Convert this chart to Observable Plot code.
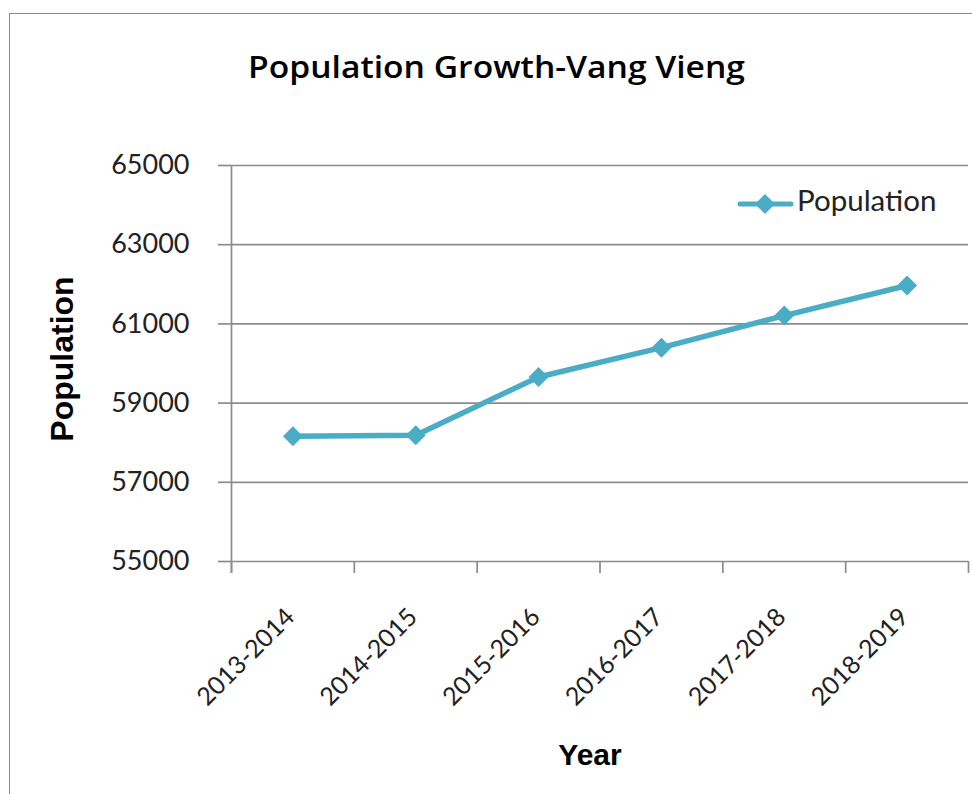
<!DOCTYPE html>
<html>
<head>
<meta charset="utf-8">
<script src="https://cdn.jsdelivr.net/npm/d3@7"></script>
<script src="https://cdn.jsdelivr.net/npm/@observablehq/plot@0.6"></script>
<style>
  html, body { margin: 0; padding: 0; background: #fff; overflow: hidden; }
  #frame { position: absolute; left: 9px; top: 13px; width: 1000px; height: 1000px; border: 1.5px solid #8a8a8a; box-sizing: border-box; }
  #chart { position: absolute; left: 0; top: 0; }
</style>
</head>
<body>
<div id="frame"></div>
<div id="chart"></div>
<script>
// ---- data ----
const years = ["2013-2014", "2014-2015", "2015-2016", "2016-2017", "2017-2018", "2018-2019"];
const population = [58160, 58190, 59660, 60400, 61210, 61970];
const yTicks = [55000, 57000, 59000, 61000, 63000, 65000];
const seriesName = "Population";
const chartTitle = "Population Growth-Vang Vieng";
const xTitle = "Year";
const yTitle = "Population";

const COLOR = "#4bacc6";
const GRAY = "#8c8c8c";

const data = years.map((year, i) => ({ year, pos: i + 0.5, population: population[i] }));
const boundaries = d3.range(years.length + 1);

const svgEl = Plot.plot({
  width: 972,
  height: 794,
  marginLeft: 231,
  marginRight: 4,
  marginTop: 165,
  marginBottom: 233,
  style: { fontFamily: "Lato, sans-serif", fontSize: "24px", background: "transparent", color: "#222" },
  x: { domain: [0, years.length] },
  y: { domain: [55000, 65000] },
  marks: [
    Plot.gridY(yTicks, { stroke: GRAY, strokeOpacity: 1, strokeWidth: 1.7 }),
    Plot.axisY(yTicks, {
      tickSize: 13, tickPadding: 29, stroke: GRAY, strokeWidth: 1.7,
      fill: "#222", fontSize: 27, tickFormat: d => String(d), label: null
    }),
    Plot.ruleX([0], { y1: 65000, y2: 55000, stroke: GRAY, strokeWidth: 1.7, insetBottom: -12 }),
    Plot.axisX(boundaries, { tickSize: 12, tickFormat: () => "", stroke: GRAY, strokeWidth: 1.7, label: null }),
    Plot.text(data, {
      x: "pos", frameAnchor: "bottom", text: "year", rotate: -45,
      textAnchor: "end", lineAnchor: "bottom", dx: 3, dy: 57, fontSize: 25, fill: "#222"
    }),
    Plot.line(data, { x: "pos", y: "population", stroke: COLOR, strokeWidth: 5.5 }),
    Plot.dot(data, { x: "pos", y: "population", symbol: "diamond2", r: 9, fill: COLOR, stroke: "none" })
  ]
});

const svg = d3.select(svgEl);
// title
svg.append("text").attr("x", 248).attr("y", 78).attr("text-anchor", "start")
  .attr("font-family", "Open Sans, Noto Sans, sans-serif").attr("font-weight", 600).attr("font-size", 30)
  .attr("textLength", 497).attr("lengthAdjust", "spacingAndGlyphs")
  .attr("fill", "#000").text(chartTitle);
// axis titles
svg.append("text").attr("transform", "translate(73,359) rotate(-90)").attr("text-anchor", "middle")
  .attr("font-family", "Liberation Sans").attr("font-weight", "bold").attr("font-size", 32)
  .attr("fill", "#000").text(yTitle);
svg.append("text").attr("x", 590).attr("y", 765).attr("text-anchor", "middle")
  .attr("font-family", "Liberation Sans").attr("font-weight", "bold").attr("font-size", 30)
  .attr("fill", "#000").text(xTitle);
// legend
const lg = svg.append("g");
lg.append("line").attr("x1", 740).attr("x2", 791).attr("y1", 204).attr("y2", 204)
  .attr("stroke", COLOR).attr("stroke-width", 5).attr("stroke-linecap", "round");
lg.append("path").attr("d", "M765,194L775,204L765,214L755,204Z").attr("fill", COLOR);
lg.append("text").attr("x", 797).attr("y", 211).attr("text-anchor", "start").attr("font-family", "Lato, sans-serif")
  .attr("font-size", 29.5).attr("fill", "#222").text(seriesName);

document.getElementById("chart").appendChild(svgEl);
</script>
</body>
</html>
